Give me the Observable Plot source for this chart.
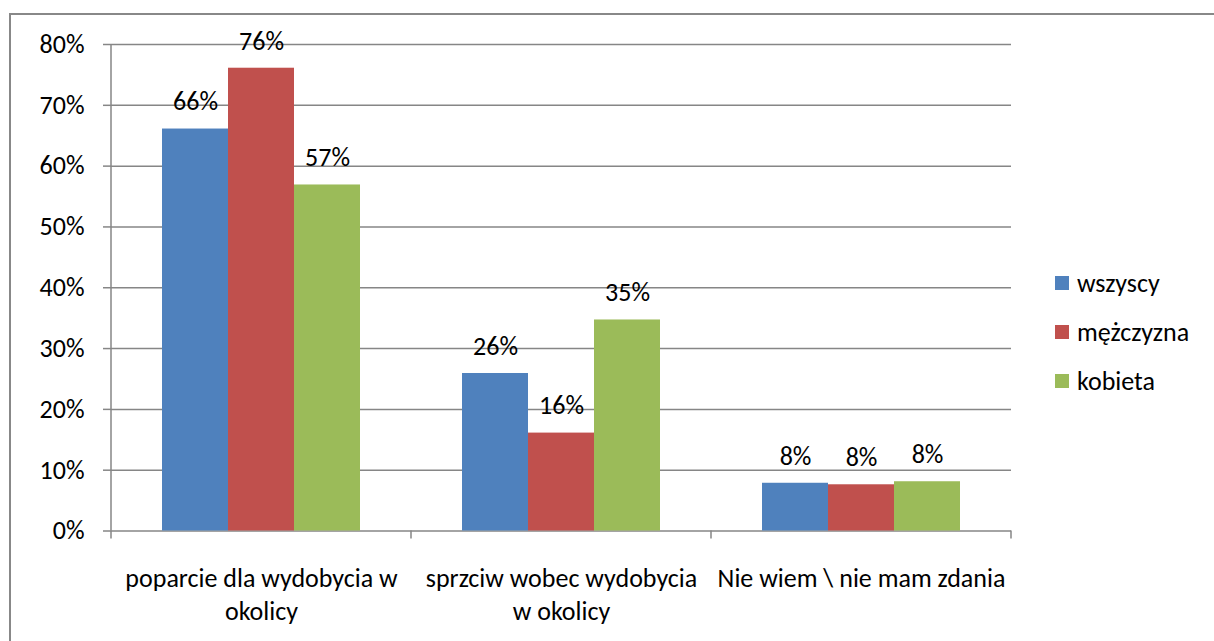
<!DOCTYPE html>
<html><head><meta charset="utf-8">
<script src="https://cdn.jsdelivr.net/npm/d3@7"></script>
<script src="https://cdn.jsdelivr.net/npm/@observablehq/plot@0.6"></script>
<style>
html,body{margin:0;padding:0;background:#fff;overflow:hidden;}
#wrap{position:relative;width:1214px;height:641px;font-family:Carlito,Lato,sans-serif;overflow:hidden;}
#border{position:absolute;left:9px;top:13px;width:1300px;height:800px;border:2px solid #888;}
#chart{position:absolute;left:0;top:0;}
#legend{position:absolute;left:1055px;top:258px;}
.item{display:flex;align-items:center;height:49px;font-size:26px;color:#000;}
.sw{width:14px;height:14px;margin-right:8px;}
</style></head>
<body><div id="wrap"><div id="border"></div><div id="chart"></div><div id="legend"></div></div>
<script>
const categories = ["poparcie dla wydobycia w\nokolicy", "sprzciw wobec wydobycia\nw okolicy", "Nie wiem \\ nie mam zdania"];
const series = ["wszyscy", "mężczyzna", "kobieta"];
const colors = ["#4F81BD", "#C0504D", "#9BBB59"];
const wszyscy = [66.1, 25.9, 7.85];
const mezczyzna = [76.1, 16.1, 7.6];
const kobieta = [56.9, 34.7, 8.1];
const yTicks = [0, 10, 20, 30, 40, 50, 60, 70, 80];

const seriesValues = [wszyscy, mezczyzna, kobieta];
const data = categories.flatMap((c, i) => series.map((s, j) => ({category: c, series: s, value: seriesValues[j][i]})));
const FONT = "Carlito, Lato, sans-serif";
const GRID = "#868686";
const FS = 26;

const plot = Plot.plot({
  width: 1214, height: 641,
  marginLeft: 110, marginRight: 202, marginTop: 44, marginBottom: 110.5,
  style: {fontFamily: FONT, fontSize: FS + "px", color: "#000", background: "transparent", overflow: "visible"},
  fx: {domain: categories, padding: 0, label: null},
  x: {domain: series, paddingInner: 0, paddingOuter: 0.75, axis: null},
  y: {domain: [0, 80]},
  color: {domain: series, range: colors},
  marks: [
    Plot.ruleY(yTicks, {stroke: GRID, strokeWidth: 1.5}),
    Plot.barY(data, {fx: "category", x: "series", y: "value", fill: "series"}),
    Plot.text(data, {fx: "category", x: "series", y: "value", text: d => Math.round(d.value) + "%", dy: -27, lineAnchor: "middle", fontSize: FS, fill: "#000"}),
    Plot.axisY({ticks: yTicks, tickFormat: d => d + "%", tickSize: 8, tickPadding: 19, stroke: GRID, strokeWidth: 1.5, fontSize: FS, label: null}),
    Plot.axisFx({anchor: "bottom", tickSize: 0, tickPadding: 33, fontSize: FS, lineHeight: 33 / FS, label: null, lineAnchor: "top"})
  ]
});
document.getElementById("chart").appendChild(plot);

// axis line and category boundary ticks, placed through Plot's own scales
const fx = plot.scale("fx"), y = plot.scale("y");
const starts = categories.map(c => fx.apply(c));
const bounds = starts.concat([starts[starts.length - 1] + fx.bandwidth]);
const g = d3.select(plot).append("g").attr("stroke", GRID).attr("stroke-width", 1.5);
g.append("line").attr("x1", bounds[0]).attr("x2", bounds[0]).attr("y1", y.apply(80)).attr("y2", y.apply(0));
bounds.forEach(b => g.append("line").attr("x1", b).attr("x2", b).attr("y1", y.apply(0)).attr("y2", y.apply(0) + 8));

const legend = d3.select("#legend");
series.forEach((s, i) => {
  const it = legend.append("div").attr("class", "item");
  it.append("div").attr("class", "sw").style("background", colors[i]);
  it.append("span").text(s);
});
</script>
</body></html>
